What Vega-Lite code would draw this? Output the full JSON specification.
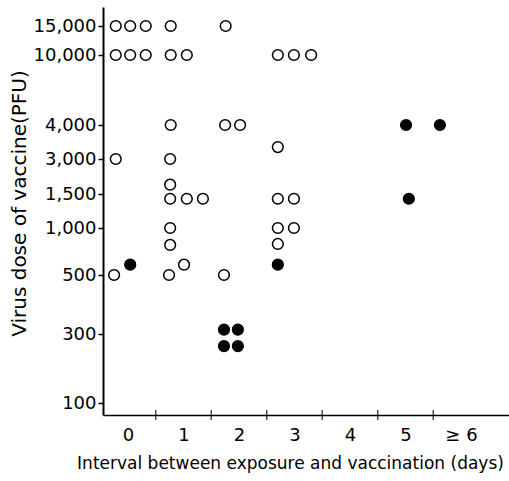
{
  "$schema": "https://vega.github.io/schema/vega-lite/v6.json",
  "width": 406,
  "height": 408,
  "autosize": "none",
  "padding": {"left": 103, "top": 7, "right": 0, "bottom": 66},
  "config": {"view": {"stroke": null}, "font": "DejaVu Sans"},
  "layer": [
    {
      "data": {"values": [
        {"day": -0.22, "dose": 15000, "marker": "open"},
        {"day": 0.04, "dose": 15000, "marker": "open"},
        {"day": 0.32, "dose": 15000, "marker": "open"},
        {"day": 0.77, "dose": 15000, "marker": "open"},
        {"day": 1.76, "dose": 15000, "marker": "open"},
        {"day": -0.22, "dose": 10000, "marker": "open"},
        {"day": 0.04, "dose": 10000, "marker": "open"},
        {"day": 0.32, "dose": 10000, "marker": "open"},
        {"day": 0.77, "dose": 10000, "marker": "open"},
        {"day": 1.06, "dose": 10000, "marker": "open"},
        {"day": 2.70, "dose": 10000, "marker": "open"},
        {"day": 2.99, "dose": 10000, "marker": "open"},
        {"day": 3.30, "dose": 10000, "marker": "open"},
        {"day": 0.77, "dose": 4000, "marker": "open"},
        {"day": 1.75, "dose": 4000, "marker": "open"},
        {"day": 2.02, "dose": 4000, "marker": "open"},
        {"day": -0.22, "dose": 3000, "marker": "open"},
        {"day": 0.76, "dose": 3000, "marker": "open"},
        {"day": 2.70, "dose": 3350, "marker": "open"},
        {"day": 0.76, "dose": 1900, "marker": "open"},
        {"day": 0.76, "dose": 1430, "marker": "open"},
        {"day": 1.06, "dose": 1430, "marker": "open"},
        {"day": 1.35, "dose": 1430, "marker": "open"},
        {"day": 2.70, "dose": 1430, "marker": "open"},
        {"day": 2.99, "dose": 1430, "marker": "open"},
        {"day": 0.76, "dose": 1000, "marker": "open"},
        {"day": 2.70, "dose": 1000, "marker": "open"},
        {"day": 2.99, "dose": 1000, "marker": "open"},
        {"day": 0.76, "dose": 820, "marker": "open"},
        {"day": 2.70, "dose": 830, "marker": "open"},
        {"day": -0.25, "dose": 500, "marker": "open"},
        {"day": 0.74, "dose": 500, "marker": "open"},
        {"day": 1.01, "dose": 610, "marker": "open"},
        {"day": 1.73, "dose": 500, "marker": "open"},
        {"day": 0.04, "dose": 610, "marker": "filled"},
        {"day": 2.70, "dose": 610, "marker": "filled"},
        {"day": 1.73, "dose": 315, "marker": "filled"},
        {"day": 1.98, "dose": 315, "marker": "filled"},
        {"day": 1.73, "dose": 265, "marker": "filled"},
        {"day": 1.98, "dose": 265, "marker": "filled"},
        {"day": 5.01, "dose": 4000, "marker": "filled"},
        {"day": 5.62, "dose": 4000, "marker": "filled"},
        {"day": 5.06, "dose": 1430, "marker": "filled"}
      ]},
      "mark": {"type": "point", "shape": "circle", "size": 115, "strokeWidth": 1.5, "stroke": "black", "opacity": 1},
      "encoding": {
        "x": {
          "field": "day", "type": "quantitative",
          "scale": {"domain": [-0.45, 6.865], "nice": false, "zero": false},
          "axis": {
            "values": [0, 1, 2, 3, 4, 5, 6],
            "labelExpr": "datum.value == 6 ? '≥ 6' : format(datum.value, 'd')",
            "ticks": false, "grid": false,
            "domainColor": "black", "domainWidth": 1.5,
            "labelFontSize": 18, "labelColor": "black", "labelPadding": 11,
            "title": "Interval between exposure and vaccination (days)",
            "titleFontSize": 17, "titleFontWeight": "normal", "titleColor": "black",
            "titleX": 187, "titlePadding": 11
          }
        },
        "y": {
          "field": "dose", "type": "quantitative",
          "scale": {
            "domain": [65, 100, 300, 500, 1000, 1500, 3000, 4000, 10000, 15000, 18276],
            "range": [408, 396, 327, 268, 221, 187, 152, 118, 48, 19, 0],
            "nice": false, "zero": false
          },
          "axis": {
            "values": [100, 300, 500, 1000, 1500, 3000, 4000, 10000, 15000],
            "labelExpr": "format(datum.value, ',')",
            "grid": false,
            "tickSize": 5, "tickWidth": 1.5, "tickColor": "black",
            "domainColor": "black", "domainWidth": 2,
            "labelFontSize": 18, "labelColor": "black", "labelPadding": 2,
            "title": "Virus dose of vaccine(PFU)",
            "titleFontSize": 20, "titleFontWeight": "normal", "titleColor": "black",
            "titlePadding": 4, "titleY": 196
          }
        },
        "fill": {"condition": {"test": "datum.marker == 'filled'", "value": "black"}, "value": "transparent"}
      }
    },
    {
      "data": {"values": [{"b": 0.5}, {"b": 1.5}, {"b": 2.5}, {"b": 3.5}, {"b": 4.5}, {"b": 5.5}]},
      "mark": {"type": "tick", "orient": "vertical", "size": 10, "thickness": 1.5, "color": "black"},
      "encoding": {
        "x": {"field": "b", "type": "quantitative"},
        "y": {"datum": 65}
      }
    }
  ]
}
